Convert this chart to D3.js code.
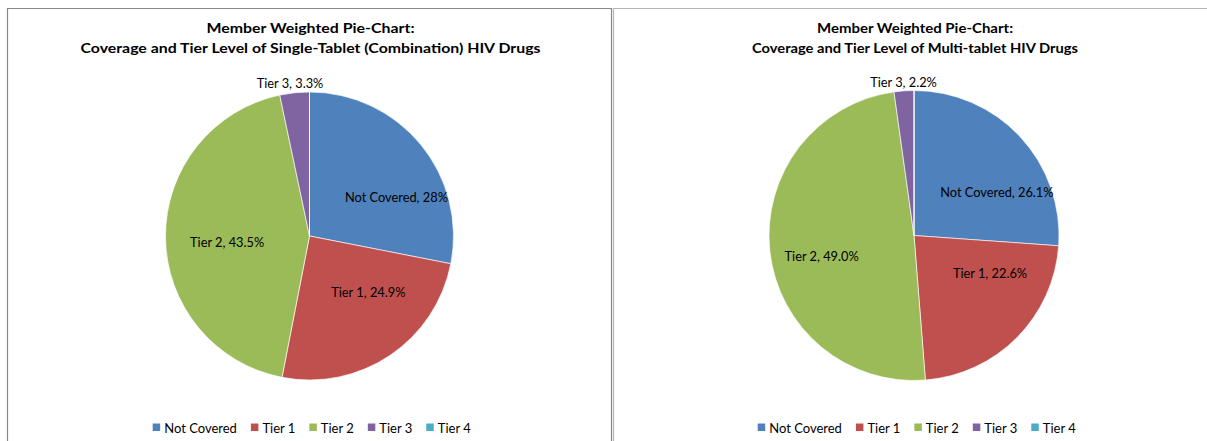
<!DOCTYPE html>
<html>
<head>
<meta charset="utf-8">
<script src="https://cdn.jsdelivr.net/npm/d3@7"></script>
<style>
  html, body { margin: 0; padding: 0; background: #fff; }
  svg { display: block; }
  text { font-family: Lato, "Open Sans", "DejaVu Sans", sans-serif; fill: #000; }
</style>
</head>
<body>
<svg id="chart" width="1207" height="441"></svg>
<script>
// ---- data ----
const categories = ["Not Covered", "Tier 1", "Tier 2", "Tier 3", "Tier 4"];
const singleTabletValues = [28.0, 24.9, 43.5, 3.3, 0];
const singleTabletLabels = ["28%", "24.9%", "43.5%", "3.3%", ""];
const multiTabletValues = [26.1, 22.6, 49.0, 2.2, 0];
const multiTabletLabels = ["26.1%", "22.6%", "49.0%", "2.2%", ""];
const titleSingle = ["Member Weighted Pie-Chart:", "Coverage and Tier Level of Single-Tablet (Combination)  HIV Drugs"];
const titleMulti = ["Member Weighted Pie-Chart:", "Coverage and Tier Level of Multi-tablet HIV Drugs"];

const colors = d3.scaleOrdinal().domain(categories)
  .range(["#4F81BD", "#C0504D", "#9BBB59", "#8064A2", "#4BACC6"]);

const svg = d3.select("#chart");

// panels (layout only)
const panels = [
  {cx: 309.5, cy: 236, r: 144, values: singleTabletValues, labels: singleTabletLabels,
   title: titleSingle, titleSize: [14, 14], titleW: [208, 460],
   nudges: [[13.6, 21.7], [5.8, -22.5], [12.7, 5]], outside: [-19.5, -153],
   legendCenter: 311.7},
  {cx: 914, cy: 235.5, r: 145, values: multiTabletValues, labels: multiTabletLabels,
   title: titleMulti, titleSize: [13.5, 13.5], titleW: [196, 326],
   nudges: [[12.9, 21.4], [8.1, -29.6], [2.8, 10.1]], outside: [-10.5, -153.5],
   legendCenter: 916.7}
];

// borders
svg.append("path")
  .attr("d", `M7.5,441 V8.5 H611.5 V441`)
  .attr("fill", "none").attr("stroke", "#898989").attr("stroke-width", 1.2);
svg.append("path")
  .attr("d", `M613.5,441 V8.5 H1207`)
  .attr("fill", "none").attr("stroke", "#b5b5b5").attr("stroke-width", 1.2);

const pie = d3.pie().sort(null).value(d => d.v);

panels.forEach(p => {
  const g = svg.append("g");
  const data = categories.map((c, i) => ({c, v: p.values[i], lab: p.labels[i], i}));
  const arcs = pie(data);
  const arc = d3.arc().innerRadius(0).outerRadius(p.r);
  const labelArc = d3.arc().innerRadius(p.r * 0.66).outerRadius(p.r * 0.66);

  // title
  p.title.forEach((t, k) => {
    g.append("text")
      .attr("x", p.cx + 1).attr("y", 33 + k * 20)
      .attr("text-anchor", "middle")
      .attr("font-weight", "bold")
      .attr("font-size", p.titleSize[k])
      .attr("textLength", p.titleW[k])
      .attr("lengthAdjust", "spacingAndGlyphs")
      .text(t);
  });

  // slices
  g.selectAll("path.slice").data(arcs).enter().append("path")
    .attr("class", "slice")
    .attr("transform", `translate(${p.cx},${p.cy})`)
    .attr("d", arc)
    .attr("fill", d => colors(d.data.c))
    .attr("stroke", "#fff").attr("stroke-width", 0.8).attr("stroke-opacity", 0.8);

  // labels
  arcs.forEach((a, i) => {
    if (a.data.v <= 0) return;
    let x, y;
    if (i < 3) {
      const c = labelArc.centroid(a);
      x = p.cx + c[0] + p.nudges[i][0];
      y = p.cy + c[1] + p.nudges[i][1];
    } else {
      x = p.cx + p.outside[0];
      y = p.cy + p.outside[1];
    }
    g.append("text")
      .attr("x", x).attr("y", y)
      .attr("text-anchor", "middle")
      .attr("dominant-baseline", "central")
      .attr("font-size", 12.8)
      .text(`${a.data.c}, ${a.data.lab}`);
  });

  // legend
  const lg = g.append("g");
  const items = [];
  categories.forEach(c => {
    const it = lg.append("g");
    it.append("rect").attr("x", 0).attr("y", -3.5).attr("width", 7.5).attr("height", 7.5).attr("fill", colors(c));
    const t = it.append("text").attr("x", 11.5).attr("y", 0.5).attr("dominant-baseline", "central")
      .attr("font-size", 13).text(c);
    const w = 11.5 + t.node().getComputedTextLength();
    items.push({it, w});
  });
  const gap = 14;
  const total = d3.sum(items, d => d.w) + gap * (items.length - 1);
  let cur = p.legendCenter - total / 2;
  items.forEach(d => {
    d.it.attr("transform", `translate(${cur},427)`);
    cur += d.w + gap;
  });
});
</script>
</body>
</html>
